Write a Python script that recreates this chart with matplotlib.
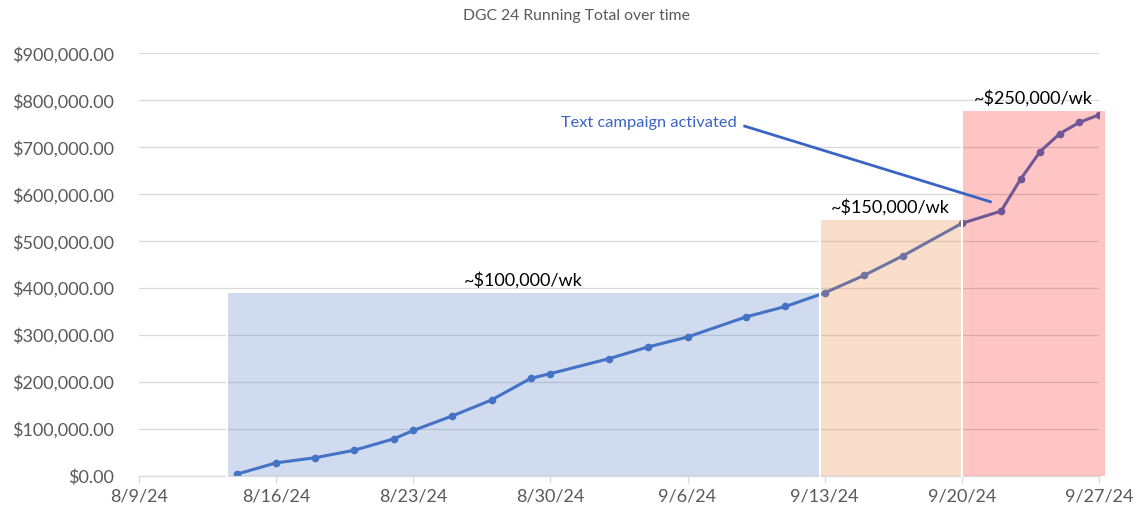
import numpy as np
import pandas as pd
import matplotlib
matplotlib.use("Agg")
import matplotlib.pyplot as plt
import matplotlib.dates as mdates
from matplotlib.ticker import FuncFormatter
from matplotlib.patches import Rectangle

plt.rcParams['font.family'] = ['Lato', 'DejaVu Sans']

# running total
dates = ["2024-08-14", "2024-08-16", "2024-08-18", "2024-08-20", "2024-08-22",
         "2024-08-23", "2024-08-25", "2024-08-27", "2024-08-29", "2024-08-30",
         "2024-09-02", "2024-09-04", "2024-09-06", "2024-09-09", "2024-09-11",
         "2024-09-13", "2024-09-15", "2024-09-17", "2024-09-20", "2024-09-22",
         "2024-09-23", "2024-09-24", "2024-09-25", "2024-09-26", "2024-09-27"]
totals = [4000, 28000, 39000, 55000, 79000,
          97000, 128000, 162000, 208000, 218000,
          250000, 275000, 296000, 339000, 361000,
          390000, 427000, 469000, 538000, 564000,
          632000, 691000, 729000, 753000, 769000]

# shaded pace periods
period_start = ["2024-08-13 12:00", "2024-09-12 18:00", "2024-09-20 00:00"]
period_end = ["2024-09-12 18:00", "2024-09-20 00:00", "2024-09-27 07:00"]
period_top = [390000, 545000, 777000]
period_labels = ["~$100,000/wk", "~$150,000/wk", "~$250,000/wk"]
period_colors = ["#4472C4", "#ED7D31", "#FF0000"]
period_alpha = [0.25, 0.25, 0.23]

x_ticks = ["2024-08-09", "2024-08-16", "2024-08-23", "2024-08-30",
           "2024-09-06", "2024-09-13", "2024-09-20", "2024-09-27"]

_x = mdates.date2num(pd.to_datetime(dates))

_fig = plt.figure(figsize=(11.42, 5.13), dpi=100)
_ax = _fig.add_axes([0.1217, 0.0721, 0.8406, 0.8239])

_ax.plot(_x, totals, color="#4472C4", lw=2.2, marker="o", ms=4.5, zorder=2)

for s, e, top, lab, c, a in zip(period_start, period_end, period_top, period_labels, period_colors, period_alpha):
	x0 = mdates.date2num(pd.Timestamp(s))
	x1 = mdates.date2num(pd.Timestamp(e))
	_ax.add_patch(Rectangle((x0, 0), x1 - x0, top, facecolor=c, alpha=a, edgecolor="none", zorder=3, clip_on=False))
	_ax.plot([x0, x0], [0, top], color="white", lw=1.5, zorder=3.5, clip_on=False)
	_ax.annotate(lab, ((x0 + x1) / 2, top), xytext=(0, 3), textcoords="offset points",
		ha="center", va="bottom", fontsize=13, color="black", zorder=5, annotation_clip=False)

# callout
_c0 = mdates.date2num(pd.Timestamp("2024-09-08 22:00"))
_c1 = mdates.date2num(pd.Timestamp("2024-09-21 11:00"))
_ax.plot([_c0, _c1], [745000, 584000], color="#3A64C4", lw=2, zorder=4, clip_on=False)
_ax.annotate("Text campaign activated", (_c0, 752000), xytext=(-6, 0), textcoords="offset points",
	ha="right", va="center", fontsize=11.8, color="#3A64C4", zorder=5)

_ax.set_xlim(mdates.date2num(pd.Timestamp(x_ticks[0])), mdates.date2num(pd.Timestamp(x_ticks[-1])))
_ax.set_ylim(0, 900000)
_ax.set_xticks(mdates.date2num(pd.to_datetime(x_ticks)))
_ax.set_xticklabels([f"{d.month}/{d.day}/24" for d in pd.to_datetime(x_ticks)])
_ax.set_yticks(np.arange(0, 900001, 100000))
_ax.yaxis.set_major_formatter(FuncFormatter(lambda v, p: f"${v:,.2f}"))

_ax.grid(axis="y", color="#D9D9D9", lw=0.9, zorder=0)
_ax.set_axisbelow(True)
for sp in ["top", "right", "left"]:
	_ax.spines[sp].set_visible(False)
_ax.spines["bottom"].set_color("#D9D9D9")
_ax.spines["bottom"].set_linewidth(0.9)
_ax.tick_params(axis="y", length=0, pad=18, labelsize=13, labelcolor="#595959")
_ax.tick_params(axis="x", length=5, color="#D9D9D9", width=0.9, pad=4, labelsize=13, labelcolor="#595959")

_fig.text(0.505, 0.969, "DGC 24 Running Total over time", ha="center", va="center", fontsize=11.3, color="#595959")

_fig.savefig("out.png", dpi=100)
